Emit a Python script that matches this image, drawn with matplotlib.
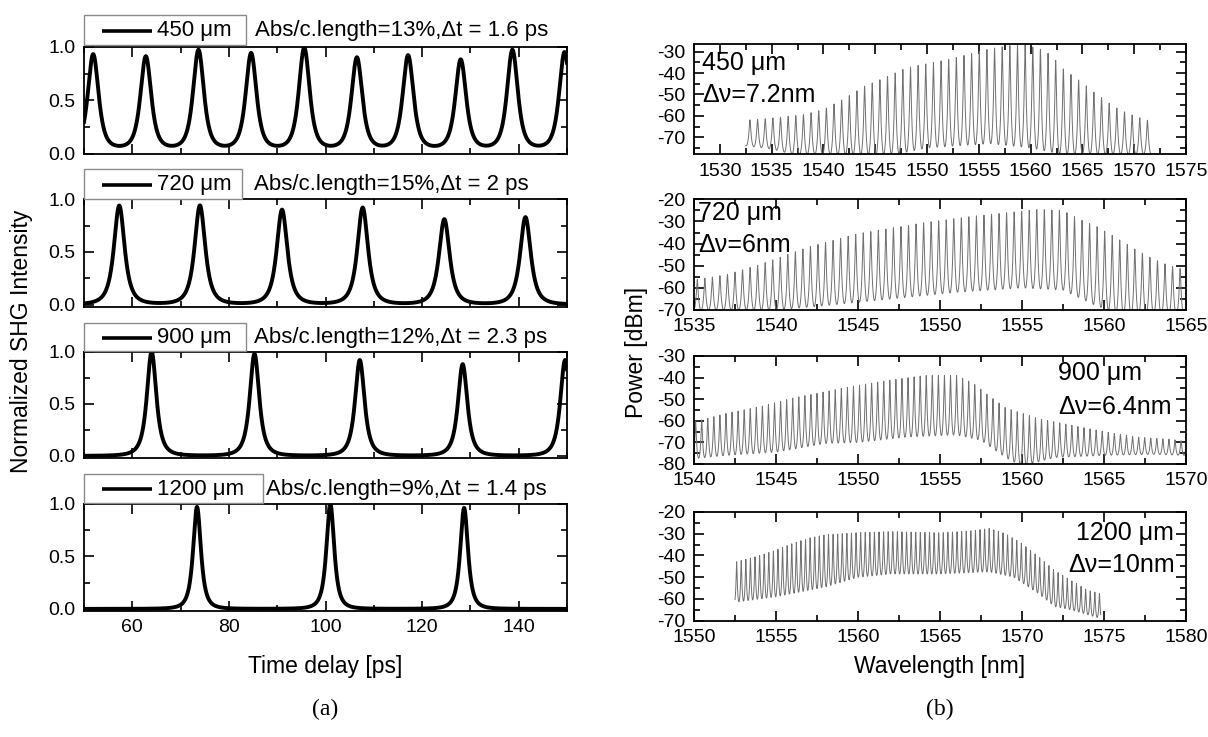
import numpy as np
import matplotlib
matplotlib.use("Agg")
import matplotlib.pyplot as plt
from matplotlib.ticker import MultipleLocator, FormatStrFormatter
from matplotlib.patches import Rectangle
from matplotlib.lines import Line2D

plt.rcParams['font.family'] = ['Liberation Sans', 'DejaVu Sans']
plt.rcParams['axes.unicode_minus'] = False

W, H = 1208, 737

# ---------------- (a) SHG autocorrelation traces ----------------
legend_a = ["450 \u03bcm", "720 \u03bcm", "900 \u03bcm", "1200 \u03bcm"]
notes_a = ["Abs/c.length=13%,\u0394t = 1.6 ps",
           "Abs/c.length=15%,\u0394t = 2 ps",
           "Abs/c.length=12%,\u0394t = 2.3 ps",
           "Abs/c.length=9%,\u0394t = 1.4 ps"]
peaks_450_t = [51.9, 62.8, 73.7, 84.6, 95.6, 106.5, 117.1, 128.0, 138.7, 149.5]
peaks_450_h = [0.93, 0.91, 0.97, 0.94, 0.99, 0.90, 0.92, 0.88, 0.97, 0.95]
peaks_720_t = [57.3, 74.0, 91.0, 107.7, 124.6, 141.4]
peaks_720_h = [0.94, 0.94, 0.90, 0.92, 0.81, 0.83]
peaks_900_t = [64.0, 85.3, 107.1, 128.4, 149.6]
peaks_900_h = [1.00, 0.98, 0.92, 0.88, 0.92]
peaks_1200_t = [73.4, 101.0, 128.7]
peaks_1200_h = [0.97, 1.00, 0.96]
fwhm_a = [2.6, 2.6, 2.3, 1.9]          # ps
floor_a = [0.05, 0.0, 0.0, 0.0]

# ---------------- (b) optical spectra (fringe envelopes) ----------------
legend_b = ["450 \u03bcm", "720 \u03bcm", "900 \u03bcm", "1200 \u03bcm"]
width_b = ["\u0394\u03bd=7.2nm", "\u0394\u03bd=6nm", "\u0394\u03bd=6.4nm", "\u0394\u03bd=10nm"]

spec450_range = [1532.5, 1571.6]
spec450_first_peak, spec450_period = 1532.9, 0.738
spec450_up_x = [1532.5, 1535, 1538, 1540, 1542, 1544, 1546, 1548, 1550, 1552, 1554, 1556, 1558, 1559.5,
                1561, 1562, 1563, 1564, 1565, 1566, 1567, 1568, 1569, 1570, 1571.6]
spec450_up_y = [-62, -61, -59.5, -57, -52, -46, -42, -37.5, -35.5, -33.5, -31, -28.5, -27, -26.8,
                -29, -31.5, -37.5, -41, -44.5, -48.5, -52, -55.5, -58, -60, -62.5]
spec450_lo_x = [1532.5, 1535, 1537, 1547, 1550, 1556, 1560, 1563, 1571.6]
spec450_lo_y = [-74, -75.5, -78, -78, -75, -73, -75, -78, -78]

spec720_range = [1535.0, 1565.0]
spec720_first_peak, spec720_period = 1535.2, 0.46
spec720_up_x = [1535, 1537, 1539, 1540.5, 1542, 1543.5, 1545, 1547, 1549, 1550.5, 1552, 1554, 1556,
                1557.5, 1558.5, 1559.5, 1561, 1562, 1563, 1564, 1565]
spec720_up_y = [-56.5, -54, -49.5, -45.5, -41.5, -38.5, -35.5, -33, -30.5, -29, -27.5, -26, -24.5,
                -25, -29, -32, -38.5, -43, -47, -50, -52]
spec720_lo_x = [1535, 1540, 1543, 1547, 1551, 1555, 1557.5, 1559.5, 1561, 1565]
spec720_lo_y = [-70, -70, -68, -65, -62, -60, -61, -68, -72, -72]

spec900_range = [1540.0, 1570.0]
spec900_first_peak, spec900_period = 1540.1, 0.37
spec900_up_x = [1540, 1542, 1544, 1546, 1548, 1550, 1552, 1554, 1556, 1557, 1558, 1559, 1560, 1561,
                1562, 1563, 1565, 1567, 1569, 1570]
spec900_up_y = [-60.5, -56.5, -53.5, -49.5, -46.5, -43.5, -41, -39, -39, -42.5, -48.5, -54, -56.5, -59,
                -60.5, -62, -65, -67.5, -68.5, -69.5]
spec900_lo_x = [1540, 1542, 1545, 1548, 1550, 1553, 1556, 1557.5, 1559, 1560, 1562, 1565, 1568, 1570]
spec900_lo_y = [-77.5, -76, -74.5, -70.5, -70, -67.5, -66.5, -69, -77, -81, -77, -76, -75.5, -76]

spec1200_range = [1552.5, 1574.8]
spec1200_first_peak, spec1200_period = 1552.6, 0.28
spec1200_up_x = [1552.5, 1554, 1555, 1556, 1557, 1558, 1560, 1562, 1565, 1567, 1568, 1569, 1570,
                 1571, 1572, 1573, 1574, 1574.8]
spec1200_up_y = [-43, -40, -37.5, -34.5, -32, -30.5, -29.5, -29, -29.5, -28.5, -27.5, -30, -34.5,
                 -40.5, -47, -51.5, -56, -57.5]
spec1200_lo_x = [1552.5, 1555, 1558, 1560, 1562, 1565, 1568, 1569.5, 1571, 1572, 1573, 1574.8]
spec1200_lo_y = [-61.5, -59, -54.5, -50, -48.5, -48.5, -47.5, -50, -57.5, -63.5, -65, -69]

xlim_b = [(1527.5, 1575), (1535, 1565), (1540, 1570), (1550, 1580)]
ylim_b = [(-78, -26.5), (-70, -20), (-80, -30), (-70, -20)]


def trace(t, centers, heights, fwhm, floor, p):
    w = (fwhm / 2) / np.sqrt(2 ** (1 / p) - 1)
    y = np.full_like(t, floor)
    for c, h in zip(centers, heights):
        y += (h - floor) / (1 + ((t - c) / w) ** 2) ** p
    return y


def spectrum(rng, first_peak, period, ux, uy, lx, ly, F=20.0):
    lam = np.linspace(rng[0], rng[1], int((rng[1] - rng[0]) / period * 60))
    hi = np.interp(lam, ux, uy)
    lo = np.interp(lam, lx, ly)
    T = 1.0 / (1.0 + F * np.sin(np.pi * (lam - first_peak) / period) ** 2)
    s = np.log10(T) / np.log10(1.0 / (1.0 + F))
    return lam, hi + (lo - hi) * s


fig = plt.figure(figsize=(W / 100, H / 100), dpi=100)


def fx(px):
    return px / W


def fy(py):
    return 1 - py / H


def add_ax(x0, x1, ytop, ybot):
    return fig.add_axes([fx(x0), fy(ybot), (x1 - x0) / W, (ybot - ytop) / H])


def style(ax):
    for s in ax.spines.values():
        s.set_linewidth(1.3)
    ax.tick_params(which='both', direction='in', top=True, right=True, width=1.2,
                   labelsize=14, pad=6)
    ax.tick_params(which='major', length=7)
    ax.tick_params(which='minor', length=4)


# ---- left column ----
left_rows = [(46.7, 154), (199.3, 306.7), (351.7, 458), (503.7, 611)]
legend_boxes = [(15, 44.5, 246), (169, 198.5, 242), (322.7, 351.2, 246), (473.7, 503.2, 262.7)]
note_x = [255, 253.6, 254.5, 266.5]
shape_p = [2.0, 1.5, 1.5, 1.5]
peaks_t = [peaks_450_t, peaks_720_t, peaks_900_t, peaks_1200_t]
peaks_h = [peaks_450_h, peaks_720_h, peaks_900_h, peaks_1200_h]
t = np.linspace(50, 150, 3000)
for i, (yt, yb) in enumerate(left_rows):
    ax = add_ax(84, 567, yt, yb)
    y = trace(t, peaks_t[i], peaks_h[i], fwhm_a[i], floor_a[i], shape_p[i])
    ax.plot(t, y, color='black', lw=2.8, solid_joinstyle='round')
    ax.set_xlim(50, 150)
    ax.set_ylim(0 if i == 0 else -0.02, 1.0)
    ax.xaxis.set_major_locator(MultipleLocator(20))
    ax.xaxis.set_minor_locator(MultipleLocator(10))
    ax.yaxis.set_major_locator(MultipleLocator(0.5))
    ax.yaxis.set_minor_locator(MultipleLocator(0.25))
    ax.yaxis.set_major_formatter(FormatStrFormatter('%.1f'))
    style(ax)
    if i < 3:
        ax.tick_params(labelbottom=False)
    # legend-like key box above each panel
    bt, bb, br = legend_boxes[i]
    fig.patches.append(Rectangle((fx(84), fy(bb)), (br - 84) / W, (bb - bt) / H,
                                 transform=fig.transFigure, facecolor='white',
                                 edgecolor='#8a8a8a', lw=1.0, zorder=5))
    yc = fy((bt + bb) / 2 + 1)
    fig.lines.append(Line2D([fx(102), fx(152)], [yc, yc], transform=fig.transFigure,
                            color='black', lw=2.6, zorder=6, solid_capstyle='butt'))
    fig.text(fx(157), yc, legend_a[i], ha='left', va='center', fontsize=16, zorder=7)
    fig.text(fx(note_x[i]), yc, notes_a[i], ha='left', va='center', fontsize=16)

# ---- right column ----
right_rows = [(44.3, 154.3), (199.3, 310), (356, 464), (512, 620.7)]
spectra = [
    spectrum(spec450_range, spec450_first_peak, spec450_period, spec450_up_x, spec450_up_y, spec450_lo_x, spec450_lo_y),
    spectrum(spec720_range, spec720_first_peak, spec720_period, spec720_up_x, spec720_up_y, spec720_lo_x, spec720_lo_y),
    spectrum(spec900_range, spec900_first_peak, spec900_period, spec900_up_x, spec900_up_y, spec900_lo_x, spec900_lo_y),
    spectrum(spec1200_range, spec1200_first_peak, spec1200_period, spec1200_up_x, spec1200_up_y, spec1200_lo_x, spec1200_lo_y),
]
text_pos = [((0.016, 0.83), (0.016, 0.54), 'left'),
            ((0.008, 0.876), (0.008, 0.587), 'left'),
            ((0.74, 0.843), (0.74, 0.53), 'left'),
            ((0.976, 0.807), (0.978, 0.512), 'right')]
for i, (yt, yb) in enumerate(right_rows):
    ax = add_ax(694, 1186, yt, yb)
    lam, p = spectra[i]
    ax.plot(lam, p, color='#707070', lw=0.7)
    ax.set_xlim(*xlim_b[i])
    ax.set_ylim(*ylim_b[i])
    ax.xaxis.set_major_locator(MultipleLocator(5))
    ax.xaxis.set_minor_locator(MultipleLocator(2.5))
    ax.yaxis.set_major_locator(MultipleLocator(10))
    ax.yaxis.set_minor_locator(MultipleLocator(5))
    style(ax)
    (p1, p2, ha) = text_pos[i]
    ax.text(p1[0], p1[1], legend_b[i], transform=ax.transAxes, ha=ha, va='center', fontsize=18)
    ax.text(p2[0], p2[1], width_b[i], transform=ax.transAxes, ha=ha, va='center', fontsize=18)

# ---- axis titles ----
fig.text(fx(22), fy(341), "Normalized SHG Intensity", rotation=90, ha='center', va='center', fontsize=16.5)
fig.text(fx(636), fy(352), "Power [dBm]", rotation=90, ha='center', va='center', fontsize=16.5)
fig.text(fx(325), fy(667), "Time delay [ps]", ha='center', va='center', fontsize=16.5)
fig.text(fx(940), fy(667), "Wavelength [nm]", ha='center', va='center', fontsize=16.5)
fig.text(fx(325), fy(709), "(a)", ha='center', va='center', fontsize=17, family='Liberation Serif')
fig.text(fx(940), fy(709), "(b)", ha='center', va='center', fontsize=17, family='Liberation Serif')

fig.savefig("out.png", dpi=100)
